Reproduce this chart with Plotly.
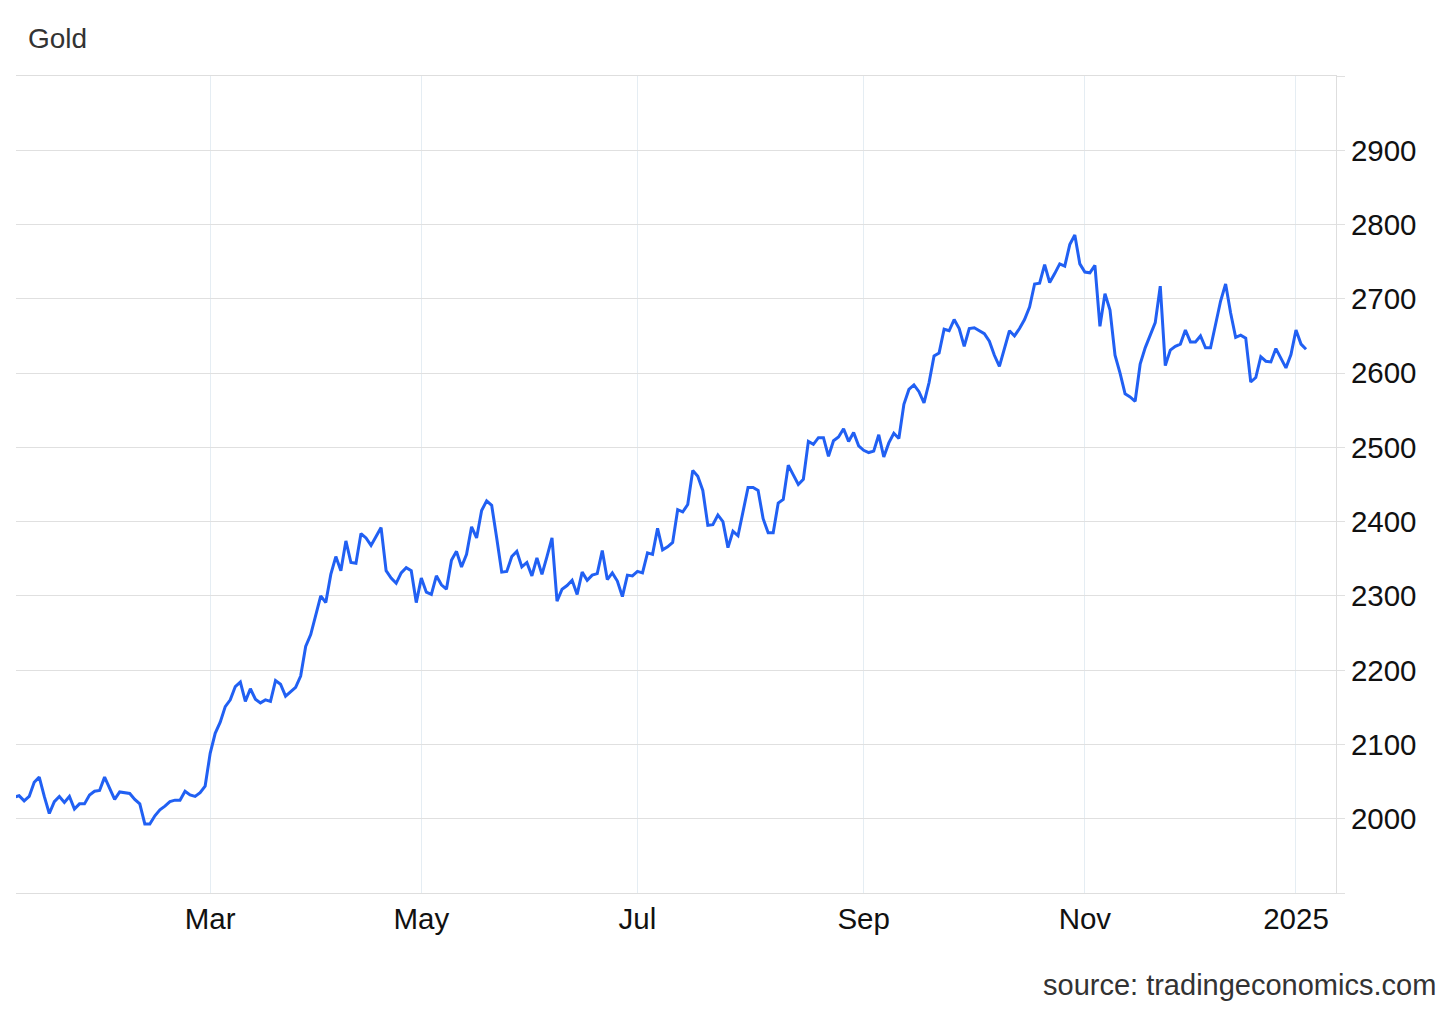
import pandas as pd
import plotly.graph_objects as go

# ---- data ----
closed_days = ["2024-03-29", "2024-12-25", "2025-01-01"]

jan_feb = [2029, 2031, 2024, 2030, 2049, 2056, 2030, 2007, 2023, 2030,
           2022, 2030, 2013, 2020, 2020, 2032, 2037, 2038, 2056, 2040,
           2026, 2036, 2035, 2034, 2026, 2020, 1993, 1993, 2004, 2012,
           2017, 2023, 2025, 2025, 2037, 2032, 2030, 2035, 2044]
mar_apr = [2088, 2115, 2130, 2151, 2160, 2178, 2184, 2158, 2175, 2161,
           2156, 2160, 2158, 2186, 2181, 2165, 2171, 2177, 2192, 2232,
           2248, 2273, 2300, 2291, 2329, 2353, 2334, 2374, 2345, 2344,
           2384, 2378, 2368, 2380, 2392, 2334, 2324, 2317, 2331, 2338,
           2334, 2291]
may_jun = [2324, 2305, 2302, 2327, 2315, 2309, 2348, 2360, 2339, 2356,
           2393, 2378, 2415, 2428, 2422, 2378, 2332, 2333, 2353, 2360,
           2339, 2345, 2327, 2351, 2329, 2353, 2378, 2293, 2309, 2314,
           2321, 2302, 2332, 2321, 2328, 2330, 2361, 2322, 2331, 2320,
           2299, 2328, 2327]
jul_aug = [2333, 2331, 2358, 2356, 2391, 2362, 2366, 2372, 2416, 2413,
           2423, 2469, 2461, 2442, 2395, 2396, 2409, 2400, 2365, 2387,
           2381, 2413, 2446, 2446, 2442, 2404, 2385, 2385, 2425, 2430,
           2476, 2463, 2450, 2457, 2508, 2504, 2513, 2513, 2488, 2509,
           2514, 2525, 2508, 2520, 2502]
sep_oct = [2496, 2493, 2495, 2517, 2487, 2506, 2519, 2512, 2558, 2578,
           2584, 2575, 2560, 2587, 2623, 2627, 2659, 2657, 2672, 2660,
           2636, 2660, 2661, 2657, 2653, 2643, 2624, 2609, 2634, 2657,
           2650, 2660, 2672, 2689, 2720, 2721, 2746, 2722, 2734, 2747,
           2744, 2773, 2786, 2747]
nov_dec = [2736, 2735, 2745, 2663, 2707, 2685, 2624, 2600, 2572, 2568,
           2562, 2612, 2634, 2651, 2668, 2717, 2610, 2631, 2636, 2639,
           2658, 2642, 2642, 2650, 2634, 2634, 2666, 2697, 2720, 2681,
           2648, 2651, 2647, 2588, 2594, 2622, 2616, 2615, 2633, 2620,
           2607, 2625]
jan_2025 = [2658, 2639, 2632]

tick_dates = ["2024-03-01", "2024-05-01", "2024-07-01", "2024-09-02",
              "2024-11-01", "2025-01-02"]
tick_labels = ["Mar", "May", "Jul", "Sep", "Nov", "2025"]
y_ticks = list(range(1900, 3001, 100))
y_labels = ["" if v in (1900, 3000) else str(v) for v in y_ticks]

# ---- build ----
values = jan_feb + mar_apr + may_jun + jul_aug + sep_oct + nov_dec + jan_2025
days = pd.bdate_range("2024-01-08", "2025-01-06")
days = days[~days.isin(pd.to_datetime(closed_days))]
assert len(days) == len(values), (len(days), len(values))

FONT = "Liberation Sans, Arial, sans-serif"

fig = go.Figure()
fig.add_trace(go.Scatter(x=days, y=values, mode="lines",
                         line=dict(color="#2160f3", width=3),
                         hoverinfo="x+y"))

# page body has an 8px margin, so the figure is offset by 8px
fig.update_layout(
    width=1448, height=1001,
    margin=dict(l=8, r=120, t=68, b=116),
    paper_bgcolor="white", plot_bgcolor="white",
    showlegend=False,
    font=dict(family=FONT, size=29, color="#111111"),
    xaxis=dict(
        type="date",
        range=["2024-01-08 09:00", "2025-01-13 23:00"],
        rangebreaks=[dict(bounds=["sat", "mon"]), dict(values=closed_days)],
        tickmode="array", tickvals=tick_dates, ticktext=tick_labels,
        showgrid=True, gridcolor="#e5edf3", gridwidth=1,
        ticks="", showline=True, mirror=True, linecolor="#dedede", linewidth=1,
        tickfont=dict(family=FONT, size=29.5, color="#111111"),
        zeroline=False,
    ),
    yaxis=dict(
        side="right",
        range=[1900, 3000],
        tickmode="array", tickvals=y_ticks, ticktext=y_labels,
        showgrid=True, gridcolor="#e0e0e0", gridwidth=1,
        ticks="outside", ticklen=8, tickcolor="#e0e0e0", tickwidth=1,
        showline=True, linecolor="#dedede", linewidth=1,
        tickfont=dict(family=FONT, size=29.5, color="#111111"),
        zeroline=False,
    ),
)

fig.add_annotation(text="Gold", xref="paper", yref="paper",
                   x=0.0076, y=1.0457, xanchor="left", yanchor="middle",
                   showarrow=False,
                   font=dict(family=FONT, size=28, color="#333333"))
fig.add_annotation(text="source: tradingeconomics.com", xref="paper", yref="paper",
                   x=1.0773, y=-0.1131, xanchor="right", yanchor="middle",
                   showarrow=False,
                   font=dict(family=FONT, size=29, color="#333333"))

fig.write_html("out.html")
